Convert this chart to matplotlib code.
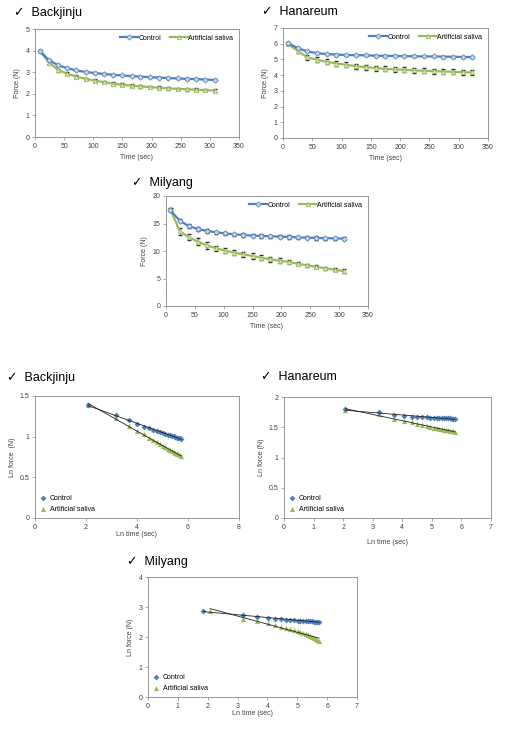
import numpy as np
import matplotlib
matplotlib.use("Agg")
import matplotlib.pyplot as plt
from matplotlib.ticker import FuncFormatter

plt.rcParams['font.family'] = ['Liberation Sans', 'DejaVu Sans']

# --- data ---
bj_time = [8, 24, 40, 55, 71, 87, 103, 118, 134, 150, 166, 181, 197, 213, 229, 245, 260, 276, 292, 308]
bj_ctrl = [4.0, 3.55, 3.32, 3.19, 3.08, 3.01, 2.96, 2.92, 2.88, 2.85, 2.82, 2.79, 2.77, 2.75, 2.73, 2.71, 2.69, 2.68, 2.66, 2.64]
bj_ctrl_err = [0.03, 0.04, 0.04, 0.04, 0.04, 0.04, 0.04, 0.04, 0.04, 0.04, 0.04, 0.04, 0.04, 0.04, 0.04, 0.04, 0.04, 0.04, 0.04, 0.04]
bj_sal = [4.0, 3.44, 3.10, 2.93, 2.80, 2.69, 2.61, 2.54, 2.47, 2.42, 2.38, 2.34, 2.31, 2.28, 2.25, 2.23, 2.21, 2.19, 2.17, 2.15]
bj_sal_err = [0.04, 0.07, 0.07, 0.06, 0.06, 0.06, 0.06, 0.06, 0.06, 0.06, 0.06, 0.06, 0.06, 0.06, 0.06, 0.06, 0.06, 0.06, 0.06, 0.06]

hn_time = [8, 25, 41, 58, 75, 91, 108, 124, 141, 158, 174, 191, 207, 224, 241, 257, 274, 290, 307, 323]
hn_ctrl = [6.05, 5.72, 5.51, 5.40, 5.34, 5.31, 5.28, 5.27, 5.26, 5.24, 5.23, 5.22, 5.21, 5.20, 5.19, 5.19, 5.18, 5.17, 5.16, 5.15]
hn_ctrl_err = [0.04, 0.06, 0.06, 0.06, 0.06, 0.06, 0.06, 0.06, 0.06, 0.06, 0.06, 0.06, 0.06, 0.06, 0.06, 0.06, 0.06, 0.06, 0.06, 0.06]
hn_sal = [6.0, 5.55, 5.13, 4.98, 4.85, 4.74, 4.66, 4.57, 4.51, 4.45, 4.40, 4.36, 4.34, 4.30, 4.28, 4.26, 4.23, 4.21, 4.19, 4.17]
hn_sal_err = [0.05, 0.12, 0.15, 0.15, 0.15, 0.16, 0.16, 0.16, 0.16, 0.16, 0.16, 0.16, 0.16, 0.16, 0.16, 0.16, 0.16, 0.16, 0.16, 0.16]

my_time_ctrl = [6.4, 24, 39, 55, 71, 87, 102, 118, 134, 150, 165, 181, 197, 213, 228, 244, 260, 276, 292, 308]
my_time_sal = [8, 24, 39, 55, 71, 87, 102, 118, 134, 150, 165, 181, 197, 213, 228, 244, 260, 276, 292, 308]
my_ctrl = [17.5, 15.5, 14.55, 14.0, 13.64, 13.4, 13.2, 13.03, 12.9, 12.79, 12.73, 12.67, 12.6, 12.55, 12.48, 12.42, 12.37, 12.33, 12.3, 12.25]
my_ctrl_err = [0.3, 0.3, 0.3, 0.3, 0.3, 0.3, 0.3, 0.3, 0.3, 0.3, 0.3, 0.3, 0.3, 0.3, 0.3, 0.3, 0.3, 0.3, 0.3, 0.3]
my_sal = [17.45, 13.58, 12.55, 11.7, 11.03, 10.48, 10.06, 9.7, 9.39, 9.09, 8.79, 8.48, 8.24, 8.0, 7.7, 7.39, 7.15, 6.85, 6.6, 6.36]
my_sal_err = [0.3, 0.6, 0.5, 0.6, 0.6, 0.5, 0.5, 0.5, 0.5, 0.5, 0.4, 0.4, 0.4, 0.3, 0.3, 0.3, 0.3, 0.3, 0.3, 0.3]

BLUE = '#4f81bd'
GREEN = '#9bbb59'
W, H = 505, 729

fig = plt.figure(figsize=(W / 100, H / 100), dpi=100)
fmt = FuncFormatter(lambda v, p: '%g' % v)


def add_ax(left, top, right, bottom):
    return fig.add_axes([left / W, 1 - bottom / H, (right - left) / W, (bottom - top) / H])


def style(ax):
    for s in ax.spines.values():
        s.set_color('#888888')
        s.set_linewidth(0.6)
    ax.tick_params(direction='out', length=2, width=0.5, color='#888888',
                   labelsize=5, labelcolor='#404040', pad=2)
    ax.xaxis.set_major_formatter(fmt)
    ax.yaxis.set_major_formatter(fmt)


def title(x, y, name):
    fig.text(x / W, 1 - y / H, '\u2713  ' + name, fontsize=9, va='center', ha='left',
             family=['Liberation Sans', 'DejaVu Sans'])


def force_plot(box, t_c, ctrl, ctrl_e, t_s, sal, sal_e, ymax, ystep):
    ax = add_ax(*box)
    style(ax)
    # error bars under the lines, so only the ends stick out
    ax.errorbar(t_c, ctrl, yerr=ctrl_e, fmt='none', ecolor='#333333', elinewidth=0.5,
                capsize=1.3, zorder=1.5)
    ax.errorbar(t_s, sal, yerr=sal_e, fmt='none', ecolor='#333333', elinewidth=0.5,
                capsize=1.3, zorder=1.5)
    ax.plot(t_c, ctrl, color=BLUE, lw=1.6, marker='D', ms=2.8,
            mfc='#c6d5ea', mec=BLUE, mew=0.5, label='Control', zorder=3)
    ax.plot(t_s, sal, color=GREEN, lw=1.6, marker='^', ms=3.2,
            mfc='#d7e4bd', mec=GREEN, mew=0.5, label='Artificial saliva', zorder=2)
    ax.set_xlim(0, 350)
    ax.set_ylim(0, ymax)
    ax.set_xticks(np.arange(0, 351, 50))
    ax.set_yticks(np.arange(0, ymax + 0.1, ystep))
    ax.set_xlabel('Time (sec)', fontsize=5, color='#404040', labelpad=3)
    ax.set_ylabel('Force (N)', fontsize=5, color='#404040', labelpad=3)
    ax.legend(loc='upper right', ncol=2, frameon=False, fontsize=5, handlelength=2.6,
              handletextpad=0.1, columnspacing=1.2, borderaxespad=0.4)
    return ax


def ln_plot(box, t_c, ctrl, t_s, sal, xmax, ymax, ystep, ylabel, xlabelpad):
    ax = add_ax(*box)
    style(ax)
    xc, yc = np.log(t_c), np.log(ctrl)
    xs, ys = np.log(t_s), np.log(sal)
    ax.scatter(xc, yc, marker='D', s=9, color=BLUE, label='Control', zorder=3, linewidths=0)
    ax.scatter(xs, ys, marker='^', s=14, color=GREEN, label='Artificial saliva', zorder=2, linewidths=0)
    for x, y in ((xc, yc), (xs, ys)):
        k, b = np.polyfit(x, y, 1)
        xx = np.array([x.min(), x.max()])
        ax.plot(xx, k * xx + b, color='#222222', lw=0.6, zorder=4)
    ax.set_xlim(0, xmax)
    ax.set_ylim(0, ymax)
    ax.set_yticks(np.arange(0, ymax + 0.01, ystep))
    ax.set_xlabel('Ln time (sec)', fontsize=5, color='#404040', labelpad=xlabelpad)
    ax.set_ylabel(ylabel, fontsize=5, color='#404040', labelpad=3)
    ax.legend(loc='lower left', frameon=False, fontsize=5, handletextpad=0.4,
              borderaxespad=0.3, labelspacing=0.6, handlelength=1.0)
    return ax


# top row: force vs time
title(14, 13, 'Backjinju')
force_plot((35, 29, 239, 137), bj_time, bj_ctrl, bj_ctrl_err, bj_time, bj_sal, bj_sal_err, 5, 1)
title(262, 12, 'Hanareum')
force_plot((283, 28, 488, 138), hn_time, hn_ctrl, hn_ctrl_err, hn_time, hn_sal, hn_sal_err, 7, 1)
title(132, 183, 'Milyang')
force_plot((166, 196, 368, 306), my_time_ctrl, my_ctrl, my_ctrl_err, my_time_sal, my_sal, my_sal_err, 20, 5)

# bottom: ln force vs ln time
title(7, 378, 'Backjinju')
ax = ln_plot((35, 396, 239, 518), bj_time, bj_ctrl, bj_time, bj_sal, 8, 1.5, 0.5, 'Ln force  (N)', 0)
ax.set_xticks(np.arange(0, 9, 2))
title(261, 377, 'Hanareum')
ax = ln_plot((284, 397, 491, 518), hn_time, hn_ctrl, hn_time, hn_sal, 7, 2, 0.5, 'Ln force (N)', 6)
ax.set_xticks(np.arange(0, 8, 1))
title(127, 562, 'Milyang')
ax = ln_plot((148, 577, 357, 697), my_time_ctrl, my_ctrl, my_time_sal, my_sal, 7, 4, 1, 'Ln force (N)', 0)
ax.set_xticks(np.arange(0, 8, 1))

fig.savefig('out.png', dpi=100)
